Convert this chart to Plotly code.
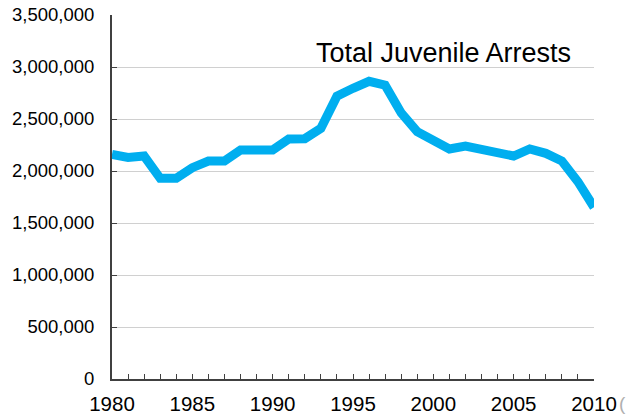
import plotly.graph_objects as go

years = list(range(1980, 2011))
arrests = [2160000, 2131000, 2144000, 1930000, 1930000, 2032000, 2096000, 2096000,
           2202000, 2195000, 2202000, 2308000, 2311000, 2410000, 2720000, 2795000,
           2862000, 2825000, 2558000, 2378000, 2292000, 2212000, 2240000, 2202000,
           2180000, 2144000, 2212000, 2170000, 2096000, 1897000, 1651000]
title_text = "Total Juvenile Arrests"
y_ticks = [0, 500000, 1000000, 1500000, 2000000, 2500000, 3000000, 3500000]
x_ticks = [1980, 1985, 1990, 1995, 2000, 2005, 2010]

fig = go.Figure()
fig.add_trace(go.Scatter(x=years, y=arrests, mode="lines",
                         line=dict(color="#00AEEF", width=9), showlegend=False,
                         hoverinfo="skip"))

fig.update_layout(
    width=632, height=416,
    margin=dict(l=112, r=38, t=15, b=37, autoexpand=False),
    paper_bgcolor="white", plot_bgcolor="white",
    font=dict(family="Liberation Sans, Arial, sans-serif", color="#000000"),
    annotations=[
        dict(text=title_text, xref="paper", yref="paper", x=(443.5 - 112) / 482,
             y=(379 - 53.5) / 364,
             xanchor="center", yanchor="middle", showarrow=False,
             font=dict(size=27, color="#000000")),
        dict(text="(", xref="paper", yref="paper", x=(617 - 112) / 482, y=-(403 - 379) / 364,
             xanchor="left", yanchor="middle", showarrow=False,
             font=dict(size=19, color="#b0b0b0")),
    ],
)
fig.update_xaxes(
    range=[1980, 2010], tickvals=x_ticks, ticktext=[str(v) for v in x_ticks],
    ticks="inside", ticklen=5, tickcolor="#404040", tickwidth=1,
    minor=dict(dtick=1, tick0=1980, ticks="inside", ticklen=5, tickcolor="#404040", tickwidth=1),
    showline=True, linecolor="#404040", linewidth=2,
    showgrid=False, zeroline=False, automargin=False,
    tickfont=dict(size=20.5, color="#000000"), ticklabelstandoff=5,
)
fig.update_yaxes(
    range=[0, 3500000], tickvals=y_ticks, ticktext=[f"{v:,}" for v in y_ticks],
    ticks="inside", ticklen=5, tickcolor="#404040", tickwidth=1,
    showline=True, linecolor="#404040", linewidth=2,
    showgrid=True, gridcolor="#d0d0d0", gridwidth=1, zeroline=False, automargin=False,
    tickfont=dict(size=18.5, color="#000000"), ticklabelstandoff=12,
)

fig.write_html("out.html", config={"displayModeBar": False},
               post_script="document.body.style.margin='0';document.body.style.overflow='hidden';")
